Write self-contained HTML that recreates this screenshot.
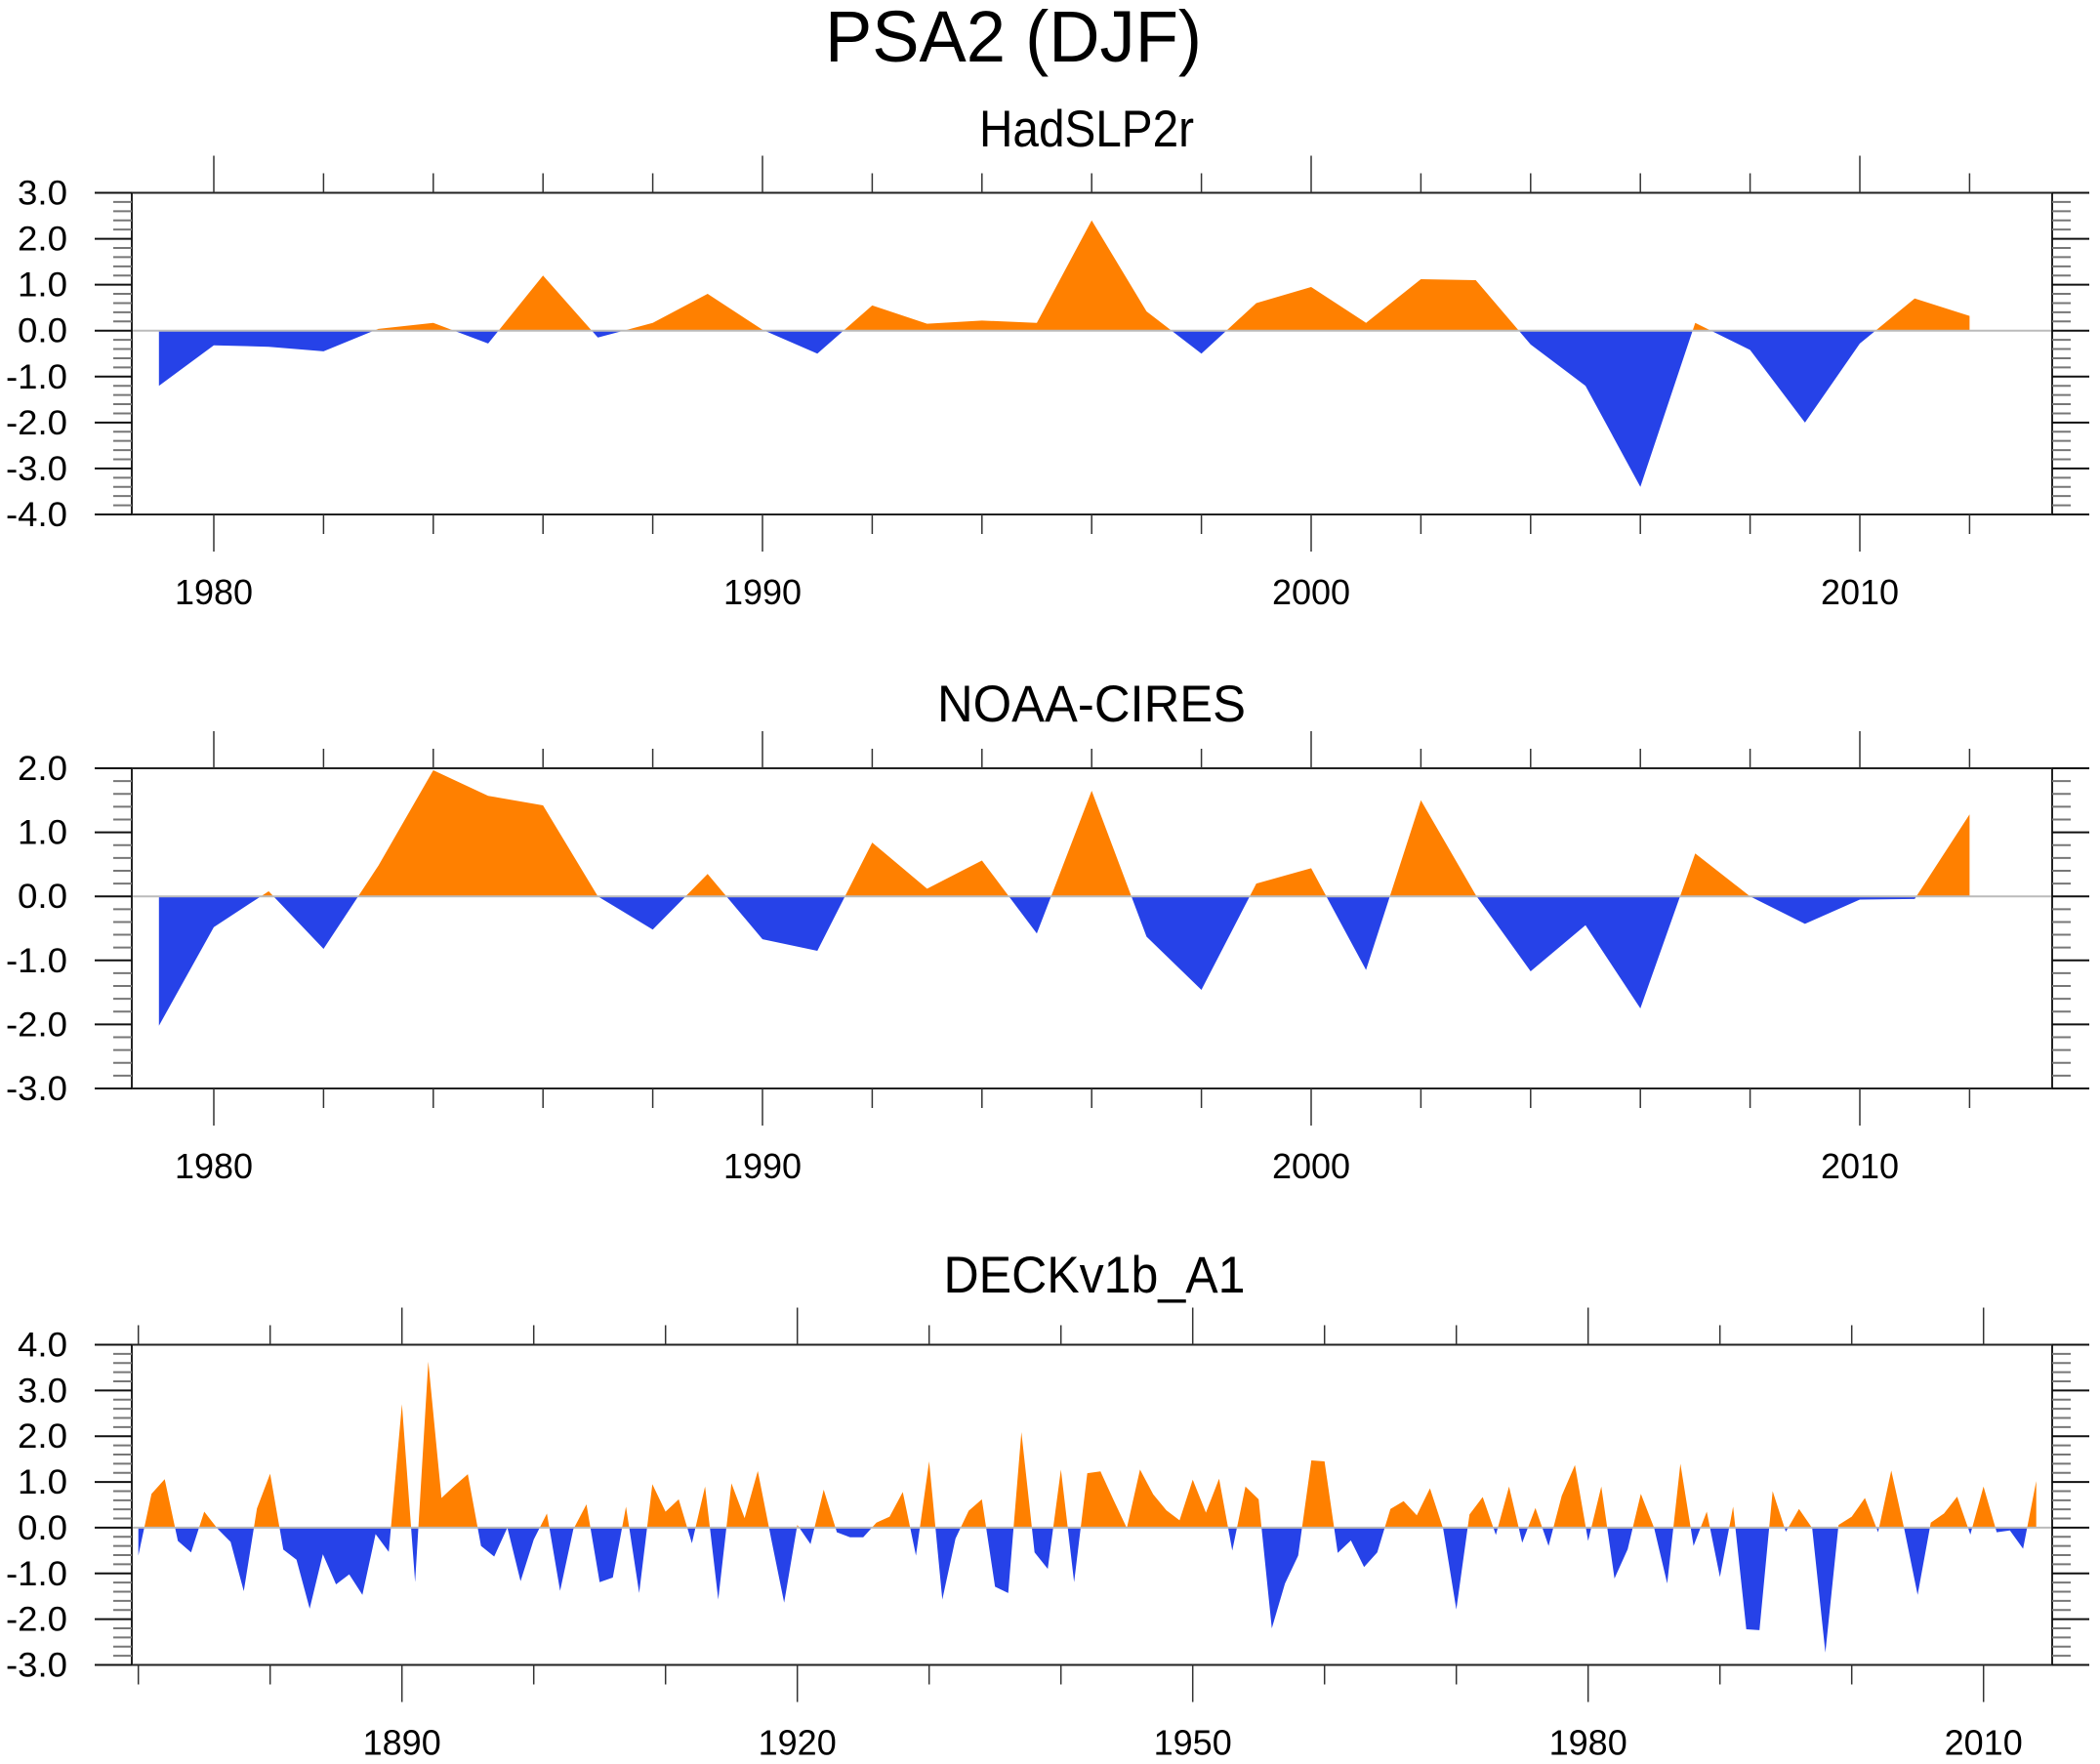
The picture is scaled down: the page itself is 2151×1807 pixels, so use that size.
<!DOCTYPE html>
<html><head><meta charset="utf-8"><style>
html,body{margin:0;padding:0;background:#fff;}
svg{display:block;font-family:"Liberation Sans",Arial,sans-serif;}
</style></head><body>
<svg id="fig" width="2151" height="1807" viewBox="0 0 2151 1807" xmlns="http://www.w3.org/2000/svg">
<text x="1038" y="63" font-size="74" text-anchor="middle" textLength="386" lengthAdjust="spacingAndGlyphs">PSA2 (DJF)</text>
</svg>
<script>
// ---- Data ----
const hadYears = [1979,2012];
const hadValues = [-1.2,-0.32,-0.35,-0.45,0.04,0.17,-0.28,1.2,-0.15,0.17,0.8,0.02,-0.5,0.55,0.15,0.22,0.17,2.4,0.42,-0.5,0.6,0.95,0.17,1.12,1.1,-0.3,-1.2,-3.4,0.17,-0.42,-2.0,-0.28,0.7,0.32];
const noaaYears = [1979,2012];
const noaaValues = [-2.02,-0.48,0.08,-0.82,0.48,1.97,1.57,1.42,0.0,-0.52,0.35,-0.67,-0.85,0.84,0.12,0.56,-0.58,1.65,-0.63,-1.46,0.2,0.44,-1.15,1.5,0.02,-1.17,-0.45,-1.75,0.67,0.0,-0.43,-0.05,-0.04,1.28];
const deckYears = [1870,2014];
const deckValues = [-0.61,0.74,1.06,-0.29,-0.54,0.35,-0.02,-0.31,-1.39,0.42,1.18,-0.48,-0.70,-1.77,-0.58,-1.24,-1.02,-1.47,-0.14,-0.53,
2.70,-1.19,3.63,0.65,0.92,1.17,-0.40,-0.63,0.0,-1.17,-0.26,0.31,-1.38,-0.04,0.51,-1.19,-1.09,0.46,-1.43,0.95,
0.35,0.62,-0.34,0.90,-1.57,0.97,0.21,1.24,-0.22,-1.64,0.06,-0.36,0.83,-0.10,-0.21,-0.21,0.11,0.24,0.78,-0.61,
1.45,-1.57,-0.24,0.37,0.62,-1.29,-1.43,2.09,-0.54,-0.90,1.27,-1.19,1.19,1.23,0.6,-0.01,1.27,0.73,0.38,0.16,
1.05,0.33,1.07,-0.50,0.90,0.62,-2.20,-1.22,-0.61,1.47,1.45,-0.55,-0.28,-0.86,-0.54,0.41,0.58,0.27,0.86,-0.02,
-1.79,0.29,0.67,-0.16,0.90,-0.33,0.43,-0.40,0.70,1.37,-0.29,0.90,-1.11,-0.47,0.74,0.0,-1.22,1.40,-0.40,0.35,
-1.08,0.46,-2.22,-2.24,0.80,-0.09,0.41,-0.01,-2.73,0.06,0.24,0.65,-0.10,1.25,-0.05,-1.47,0.11,0.31,0.68,-0.15,
0.90,-0.10,-0.06,-0.46,1.02];
const hadYTicks = [3,2,1,0,-1,-2,-3,-4];
const noaaYTicks = [2,1,0,-1,-2,-3];
const deckYTicks = [4,3,2,1,0,-1,-2,-3];
const shortXLabels = [1980,1990,2000,2010];
const longXLabels = [1890,1920,1950,1980,2010];

const NS='http://www.w3.org/2000/svg';
const svg=document.getElementById('fig');
function mk(tag,attrs,parent){const e=document.createElementNS(NS,tag);for(const k in attrs)e.setAttribute(k,attrs[k]);(parent||svg).appendChild(e);return e;}

function panel(cfg){
  const L=135,R=2102,T=cfg.top,B=cfg.bottom;
  const g=mk('g',{});
  
  
  const x=yr=>cfg.x0+(yr-cfg.yr0)*cfg.pxYr;
  const y=v=>T+(cfg.ymax-v)*(B-T)/(cfg.ymax-cfg.ymin);
  const t=mk('text',{x:cfg.tx,y:cfg.ty,'font-size':53,'text-anchor':'middle',textLength:cfg.tw,lengthAdjust:'spacingAndGlyphs'},g);
  t.textContent=cfg.title;
  
  
  const vals=cfg.values, y0=cfg.years[0];
  const pts=[];
  for(let i=0;i<vals.length;i++){
    pts.push([y0+i,vals[i]]);
    if(i<vals.length-1){const a=vals[i],b=vals[i+1];
      if((a>0&&b<0)||(a<0&&b>0)){const f=a/(a-b);pts.push([y0+i+f,0]);}}
  }
  function poly(sign,color,nm){
    let d='M'+x(pts[0][0])+','+y(0);
    for(const p of pts){const v=sign>0?Math.max(p[1],0):Math.min(p[1],0);d+=' L'+x(p[0]).toFixed(2)+','+y(v).toFixed(2);}
    d+=' L'+x(pts[pts.length-1][0])+','+y(0)+' Z';
    const e=mk('path',{d:d,fill:color,stroke:'none'},g);
    
    
  }
  poly(1,'#ff8000',cfg.name+'-positive-area');
  poly(-1,'#2642e8',cfg.name+'-negative-area');
  const zl=mk('line',{x1:L,x2:R,y1:y(0),y2:y(0),stroke:'#bbb','stroke-width':2},g);
  
  
  const fr=mk('rect',{x:L,y:T,width:R-L,height:B-T,fill:'none',stroke:'#222','stroke-width':2},g);
  
  
  const ticks=cfg.yticks;
  for(let v=ticks[ticks.length-1];v<=ticks[0]+1e-9;v+=0.2){
    const vv=Math.round(v*10)/10, yy=y(vv), major=Math.abs(vv-Math.round(vv))<1e-6;
    const len=major?38:19;
    mk('line',{x1:L-len,x2:L,y1:yy,y2:yy,stroke:major?'#111':'#777','stroke-width':2},g);
    mk('line',{x1:R,x2:R+len,y1:yy,y2:yy,stroke:major?'#111':'#777','stroke-width':2},g);
  }
  for(const v of ticks){
    const s=v.toFixed(1);
    const tl=mk('text',{x:69,y:y(v)+12,'font-size':35,'text-anchor':'end',textLength:s.length>3?63:51,lengthAdjust:'spacingAndGlyphs'},g);
    tl.textContent=s;
    
    
  }
  for(let yr=cfg.minorStart;yr<=cfg.minorEnd;yr+=cfg.minorStep){
    const major=cfg.labels.indexOf(yr)>=0, len=major?38:20, xx=x(yr);
    mk('line',{x1:xx,x2:xx,y1:T-len,y2:T,stroke:'#333','stroke-width':1.5},g);
    mk('line',{x1:xx,x2:xx,y1:B,y2:B+len,stroke:'#333','stroke-width':1.5},g);
  }
  for(const yr of cfg.labels){
    const tl=mk('text',{x:x(yr),y:B+92,'font-size':36,'text-anchor':'middle'},g);
    tl.textContent=yr;
    
    
  }
}
panel({name:'hadslp2r',title:'HadSLP2r',tx:1113,ty:150,tw:220,top:197.5,bottom:527,ymax:3,ymin:-4,yticks:hadYTicks,
  values:hadValues,years:hadYears,x0:219,yr0:1980,pxYr:56.2,minorStart:1980,minorEnd:2012,minorStep:2,labels:shortXLabels});
panel({name:'noaa-cires',title:'NOAA-CIRES',tx:1118,ty:739,tw:316,top:787,bottom:1115,ymax:2,ymin:-3,yticks:noaaYTicks,
  values:noaaValues,years:noaaYears,x0:219,yr0:1980,pxYr:56.2,minorStart:1980,minorEnd:2012,minorStep:2,labels:shortXLabels});
panel({name:'deckv1b-a1',title:'DECKv1b_A1',tx:1121,ty:1324,tw:309,top:1377.5,bottom:1705.5,ymax:4,ymin:-3,yticks:deckYTicks,
  values:deckValues,years:deckYears,x0:141.7,yr0:1870,pxYr:13.5,minorStart:1870,minorEnd:2010,minorStep:10,labels:longXLabels});
</script>
</body></html>
